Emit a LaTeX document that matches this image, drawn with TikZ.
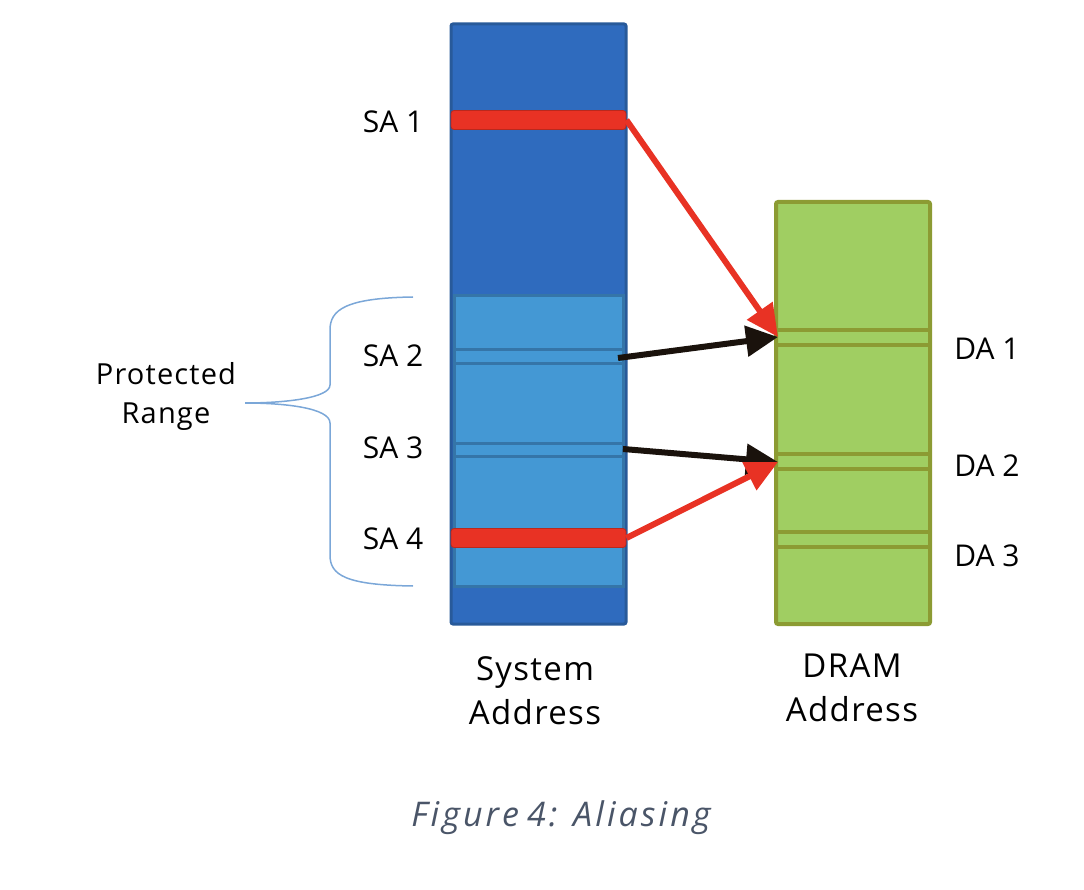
\documentclass[tikz,border=0pt]{standalone}
\usepackage{fontspec}
\setmainfont{Open Sans}
\newfontfamily\widefont[LetterSpace=4]{Open Sans}
\newfontfamily\capfont[LetterSpace=9]{Open Sans}
\usetikzlibrary{arrows.meta}
\definecolor{darkblue}{HTML}{2F6BBE}
\definecolor{edgeblue}{HTML}{285A9A}
\definecolor{lightblue}{HTML}{4498D4}
\definecolor{midblue}{HTML}{3575A8}
\definecolor{redbar}{HTML}{E83224}
\definecolor{greenfill}{HTML}{A0CE62}
\definecolor{olive}{HTML}{8C9B33}
\definecolor{bracecol}{HTML}{7BA7D8}
\definecolor{captioncol}{HTML}{4A5568}
\definecolor{arrowblack}{HTML}{1A120C}
\tikzset{
  lbl/.style={font=\fontsize{30}{40}\selectfont, align=center, inner sep=0pt},
  biglbl/.style={font=\widefont\fontsize{33}{44}\selectfont, align=center, inner sep=0pt},
  redstripe/.style={fill=redbar, draw=redbar!80!black, line width=0.8pt, rounded corners=3pt, minimum width=175pt, minimum height=19pt, inner sep=0pt},
  sysline/.style={draw=midblue, line width=3pt},
  dramline/.style={draw=olive, line width=4pt},
  redarrow/.style={draw=redbar, line width=6pt, -{Triangle[length=32pt,width=30pt]}},
  blackarrow/.style={draw=arrowblack, line width=6pt, -{Triangle[length=32pt,width=30pt]}},
}
\begin{document}
\begin{tikzpicture}[x=1pt,y=-1pt]
\useasboundingbox (0,0) rectangle (1084,890);
% system address column
\node[draw=edgeblue, fill=darkblue, line width=3pt, rounded corners=2pt, minimum width=175pt, minimum height=600pt, inner sep=0pt] (sys) at (538.5,324) {};
\node[draw=midblue, fill=lightblue, line width=3pt, minimum width=169pt, minimum height=290pt, inner sep=0pt] (prot) at (538.5,441) {};
\draw[sysline] (453,350) -- (624,350);
\draw[sysline] (453,364) -- (624,364);
\draw[sysline] (453,443) -- (624,443);
\draw[sysline] (453,456) -- (624,456);
\node[redstripe] (sa1) at (538.5,120) {};
\node[redstripe] (sa4) at (538.5,538) {};
\coordinate (sa2) at (618,358);
\coordinate (sa3) at (623,449);
% DRAM column
\node[draw=olive, fill=greenfill, line width=4pt, rounded corners=2pt, minimum width=154pt, minimum height=422pt, inner sep=0pt] (dram) at (853,413) {};
\foreach \y in {330,345,454,469,532,547} \draw[dramline] (776,\y) -- (930,\y);
\coordinate (da1) at (778,337);
\coordinate (da2) at (778,462);
% arrows
\draw[redarrow] (sa1.east) -- (da1);
\draw[blackarrow] (sa2) -- (da1);
\draw[blackarrow] (sa3) -- (da2);
\draw[redarrow] (sa4.east) -- (da2);
% labels
\node[lbl] (lsa1) at (393,122) {SA 1};
\node[lbl] (lsa2) at (393,356) {SA 2};
\node[lbl] (lsa3) at (393,448) {SA 3};
\node[lbl] (lsa4) at (393,539) {SA 4};
\node[lbl] (lda1) at (987,349) {DA 1};
\node[lbl] (lda2) at (987,466) {DA 2};
\node[lbl] (lda3) at (987,556) {DA 3};
\node[lbl, font=\widefont\fontsize{29}{39}\selectfont] (prange) at (166,396) {Protected\\Range};
\node[biglbl] (sysl) at (535,691) {System\\Address};
\node[biglbl] (draml) at (852,688) {DRAM\\Address};
% brace
\draw[bracecol, line width=1.5pt] (413,297) .. controls (345,298) and (330,310) .. (330,330) -- (330,385) .. controls (330,398) and (285,403) .. (245,403) .. controls (285,403) and (330,408) .. (330,423) -- (330,555) .. controls (330,575) and (345,585) .. (413,586);
% caption
\node[inner sep=0pt, text=captioncol, font=\capfont\fontsize{34}{38}\selectfont\itshape] (cap) at (561,818) {Figure\hspace{8pt}4: Aliasing};
\end{tikzpicture}
\end{document}
